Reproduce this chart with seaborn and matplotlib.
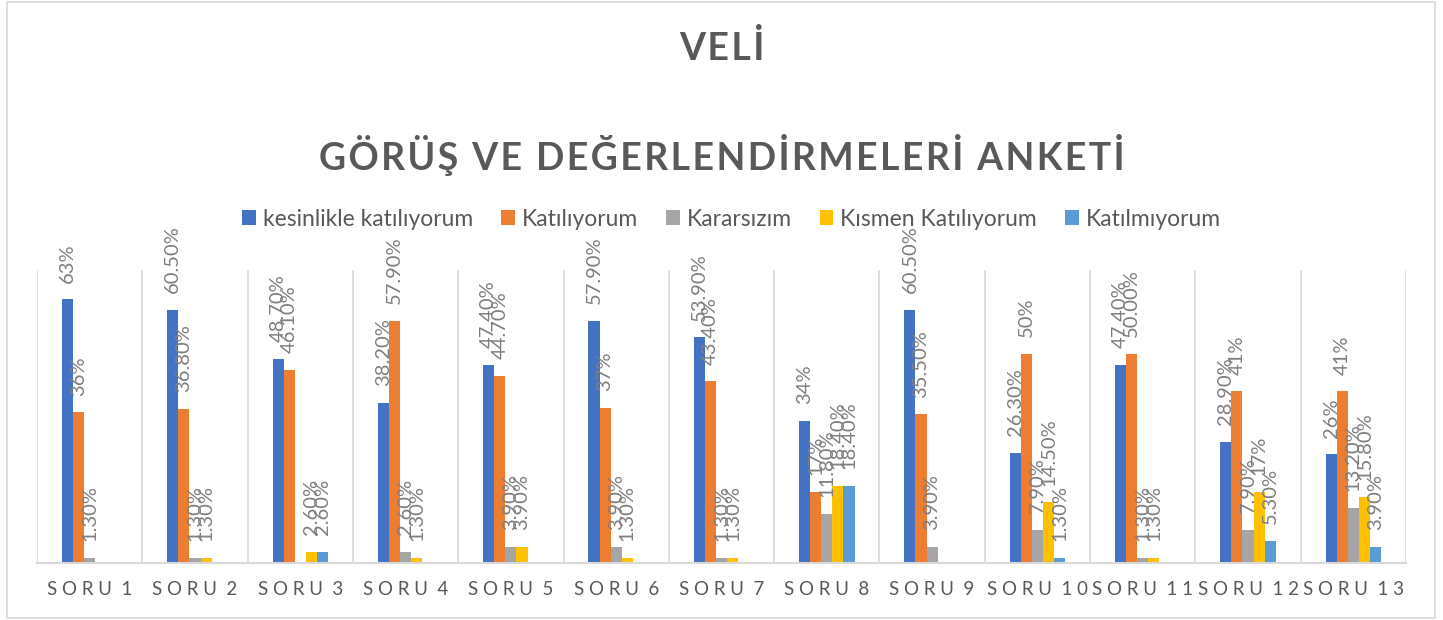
import numpy as np
import pandas as pd
import matplotlib
matplotlib.use("Agg")
import matplotlib.pyplot as plt
from matplotlib.patches import Rectangle, Patch
import seaborn as sns

# Data (percent); nan = no bar shown
sorular = ["SORU 1", "SORU 2", "SORU 3", "SORU 4", "SORU 5", "SORU 6", "SORU 7",
           "SORU 8", "SORU 9", "SORU 10", "SORU 11", "SORU 12", "SORU 13"]
cevaplar = ["kesinlikle katılıyorum", "Katılıyorum", "Kararsızım",
            "Kısmen Katılıyorum", "Katılmıyorum"]
nan = np.nan

kesinlikle = [63, 60.5, 48.7, 38.2, 47.4, 57.9, 53.9, 34, 60.5, 26.3, 47.4, 28.9, 26]
katiliyorum = [36, 36.8, 46.1, 57.9, 44.7, 37, 43.4, 17, 35.5, 50, 50, 41, 41]
kararsizim = [1.3, 1.3, nan, 2.6, 3.9, 3.9, 1.3, 11.8, 3.9, 7.9, 1.3, 7.9, 13.2]
kismen = [nan, 1.3, 2.6, 1.3, 3.9, 1.3, 1.3, 18.4, nan, 14.5, 1.3, 17, 15.8]
katilmiyorum = [nan, nan, 2.6, nan, nan, nan, nan, 18.4, nan, 1.3, nan, 5.3, 3.9]

# data label texts as they appear on the chart
lbl_kesinlikle = ["63%", "60.50%", "48.70%", "38.20%", "47.40%", "57.90%", "53.90%",
                  "34%", "60.50%", "26.30%", "47.40%", "28.90%", "26%"]
lbl_katiliyorum = ["36%", "36.80%", "46.10%", "57.90%", "44.70%", "37%", "43.40%",
                   "17%", "35.50%", "50%", "50.00%", "41%", "41%"]
lbl_kararsizim = ["1.30%", "1.30%", "", "2.60%", "3.90%", "3.90%", "1.30%",
                  "11.80%", "3.90%", "7.90%", "1.30%", "7.90%", "13.20%"]
lbl_kismen = ["", "1.30%", "2.60%", "1.30%", "3.90%", "1.30%", "1.30%",
              "18.40%", "", "14.50%", "1.30%", "17%", "15.80%"]
lbl_katilmiyorum = ["", "", "2.60%", "", "", "", "",
                    "18.40%", "", "1.30%", "", "5.30%", "3.90%"]

renkler = ["#4472C4", "#ED7D31", "#A5A5A5", "#FFC000", "#5B9BD5"]

values = [kesinlikle, katiliyorum, kararsizim, kismen, katilmiyorum]
labels = [lbl_kesinlikle, lbl_katiliyorum, lbl_kararsizim, lbl_kismen, lbl_katilmiyorum]

rows = []
for cevap, vals in zip(cevaplar, values):
    for soru, v in zip(sorular, vals):
        rows.append({"soru": soru, "cevap": cevap, "yuzde": v})
df = pd.DataFrame(rows)

sns.set_style("white")
plt.rcParams["font.family"] = ["Lato", "DejaVu Sans"]

fig = plt.figure(figsize=(14.43, 6.2), dpi=100)
ax = fig.add_axes([37 / 1443, 1 - 563 / 620, (1406 - 37) / 1443, (563 - 270) / 620])

sns.barplot(data=df, x="soru", y="yuzde", hue="cevap", order=sorular,
            hue_order=cevaplar, palette=renkler, saturation=1, width=0.527,
            gap=0, errorbar=None, legend=False, ax=ax, linewidth=0)

ax.set_xlim(-0.5, len(sorular) - 0.5)
ax.set_ylim(0, 70)

# category separators
for x in np.arange(-0.5, len(sorular)):
    ax.axvline(x, color="#D9D9D9", lw=1.2, zorder=0)

for s in ["top", "left", "right"]:
    ax.spines[s].set_visible(False)
ax.spines["bottom"].set_color("#D9D9D9")
ax.spines["bottom"].set_linewidth(1.5)
ax.set_yticks([])
ax.set_xlabel("")
ax.set_ylabel("")

hair = "\u200a"
# letter-spaced tick labels like the original
tick_txt = ["  ".join(" ".join(list(w)) for w in s.split(" ")) for s in sorular]
ax.set_xticks(range(len(sorular)))
ax.set_xticklabels(tick_txt, fontsize=13.5, color="#595959")
ax.tick_params(axis="x", length=0, pad=13)

# rotated data labels above the bars
for i, cont in enumerate(ax.containers):
    for bar in cont:
        h = bar.get_height()
        if not np.isfinite(h):
            continue
        xc = bar.get_x() + bar.get_width() / 2
        k = int(round(xc))
        txt = labels[i][k]
        if txt == "":
            continue
        ax.annotate(txt, (xc, h), xytext=(0, 12), textcoords="offset points",
                    rotation=90, ha="center", va="bottom", fontsize=14.5,
                    color="#7F7F7F", annotation_clip=False)

handles = [Patch(facecolor=c, edgecolor="none") for c in renkler]
fig.legend(handles, cevaplar, loc="center", bbox_to_anchor=(0.507, 1 - 219 / 620),
           ncol=5, frameon=False, fontsize=16.5, handlelength=0.6, handleheight=0.6,
           handletextpad=0.3, columnspacing=1.22, labelcolor="#595959")

fig.text(0.5, 1 - 48 / 620, hair.join(list("VELİ")), ha="center", va="center",
         fontsize=27, fontweight="bold", color="#595959")
fig.text(0.5, 1 - 155 / 620, hair.join(list("GÖRÜŞ VE DEĞERLENDİRMELERİ ANKETİ")),
         ha="center", va="center", fontsize=27, fontweight="bold", color="#595959")

fig.patches.append(Rectangle((7 / 1443, 2 / 620), 1428 / 1443, 616 / 620,
                             transform=fig.transFigure, fill=False,
                             edgecolor="#D9D9D9", lw=1.2))

fig.savefig("out.png", dpi=100, facecolor="white")
